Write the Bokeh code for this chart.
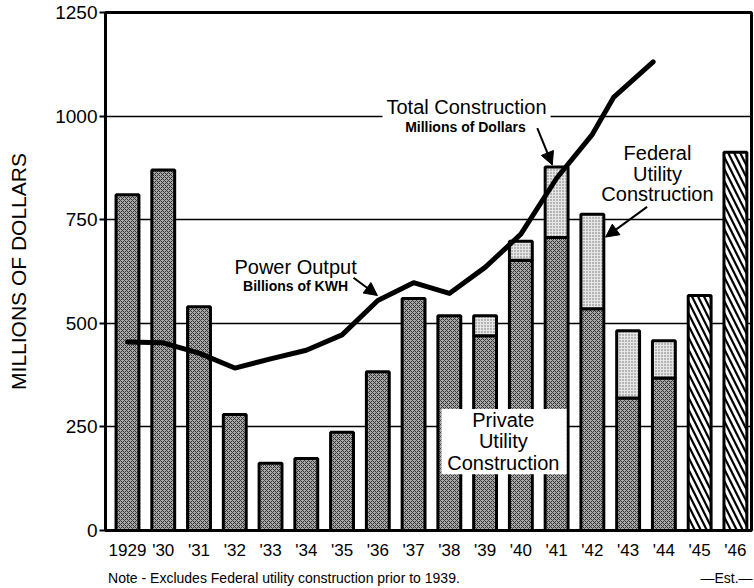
from bokeh.plotting import figure
from bokeh.models import (Range1d, FixedTicker, Label, Arrow, NormalHead,
                          BoxAnnotation, LinearAxis)
from bokeh.embed import file_html
from bokeh.resources import INLINE

FONT = "Liberation Sans"

# ---- data ----
years = list(range(1929, 1947))
year_labels = ["1929", "'30", "'31", "'32", "'33", "'34", "'35", "'36", "'37",
               "'38", "'39", "'40", "'41", "'42", "'43", "'44", "'45", "'46"]
private_years = list(range(1929, 1945))
private = [810, 870, 540, 280, 162, 174, 237, 383, 560, 518, 470, 652, 707, 535, 320, 368]
federal_years = [1939, 1940, 1941, 1942, 1943, 1944]
federal = [48, 46, 170, 228, 162, 90]
est_years = [1945, 1946]
estimated = [567, 913]
power_x = [1929, 1930, 1931, 1932, 1933, 1934, 1935, 1936, 1937, 1938,
           1939, 1940, 1941, 1942, 1942.6, 1943.7]
power = [455, 453, 428, 392, 414, 435, 472, 555, 598, 572,
         635, 715, 850, 956, 1046, 1131]
y_ticks = [0, 250, 500, 750, 1000, 1250]
note_text = "Note - Excludes Federal utility construction prior to 1939."
est_text = "\u2014Est.\u2014"

priv_map = dict(zip(private_years, private))
fed_bottom = [priv_map[y] for y in federal_years]
fed_top = [b + f for b, f in zip(fed_bottom, federal)]

p = figure(width=754, height=588, output_backend="svg", toolbar_location=None,
           x_range=Range1d(1928.385, 1946.45), y_range=Range1d(0, 1250),
           min_border_left=105, min_border_right=3, min_border_top=12,
           min_border_bottom=58)
p.background_fill_color = "white"
p.border_fill_color = "white"
p.outline_line_color = "black"
p.outline_line_width = 3

# grid
p.xgrid.visible = False
p.ygrid.ticker = FixedTicker(ticks=[250, 500, 750, 1000])
p.ygrid.grid_line_color = "black"
p.ygrid.grid_line_width = 1.5

# axes
p.yaxis.ticker = FixedTicker(ticks=y_ticks)
p.yaxis.axis_line_width = 3
p.yaxis.major_tick_out = 6
p.yaxis.major_tick_in = 0
p.yaxis.major_tick_line_width = 2
p.yaxis.minor_tick_line_color = None
p.yaxis.major_label_standoff = 2
p.yaxis.major_label_text_font = FONT
p.yaxis.major_label_text_font_size = "19px"
p.yaxis.major_label_text_color = "black"
p.yaxis.axis_label = "MILLIONS OF DOLLARS"
p.yaxis.axis_label_text_font = FONT
p.yaxis.axis_label_text_font_size = "21px"
p.yaxis.axis_label_text_font_style = "normal"
p.yaxis.axis_label_text_color = "black"
p.yaxis.axis_label_standoff = 22

p.xaxis.ticker = FixedTicker(ticks=years)
p.xaxis.major_label_overrides = {y: l for y, l in zip(years, year_labels)}
p.xaxis.axis_line_width = 3
p.xaxis.major_tick_out = 0
p.xaxis.major_tick_in = 0
p.xaxis.minor_tick_line_color = None
p.xaxis.major_label_standoff = 10
p.xaxis.major_label_text_font = FONT
p.xaxis.major_label_text_font_size = "17px"
p.xaxis.major_label_text_color = "black"

# label-only axis below for the "Est." mark and the note
note_pos, est_pos = 1933.375, 1945.75
ax2 = LinearAxis(ticker=FixedTicker(ticks=[note_pos, est_pos]),
                 major_label_overrides={note_pos: note_text, est_pos: est_text},
                 axis_line_color=None, major_tick_line_color=None,
                 minor_tick_line_color=None, major_label_standoff=1,
                 major_label_text_font=FONT, major_label_text_font_size="14px",
                 major_label_text_color="black")
p.add_layout(ax2, "below")

BW = 0.64
# private utility construction (dark stipple)
p.vbar(x=private_years, top=private, bottom=0, width=BW,
       fill_color="#a8a8a8", line_color="black", line_width=3,
       hatch_pattern="diagonal_cross", hatch_scale=4, hatch_weight=1,
       hatch_color="#333333")
# federal utility construction (light stipple)
p.vbar(x=federal_years, top=fed_top, bottom=fed_bottom, width=BW,
       fill_color="#e6e6e6", line_color="black", line_width=3,
       hatch_pattern="dot", hatch_scale=3, hatch_weight=1.2,
       hatch_color="#6a6a6a")
# estimated (hatched)
p.vbar(x=est_years, top=estimated, bottom=0, width=BW,
       fill_color="white", line_color="black", line_width=3,
       hatch_pattern="left_diagonal_line", hatch_scale=12, hatch_weight=2.2,
       hatch_color="black")

# power output line
p.line(x=power_x, y=power, line_color="black", line_width=5,
       line_join="round", line_cap="round")

# ---- annotations ----
def lab(x, y, text, size, style="normal", align="center", baseline="middle", **kw):
    p.add_layout(Label(x=x, y=y, text=text, text_font=FONT, text_font_size=size,
                       text_font_style=style, text_align=align,
                       text_baseline=baseline, text_color="black", **kw))

lab(1933.70, 637, "Power Output", "20px")
lab(1933.70, 591, "Billions of KWH", "14px", "bold")
lab(1938.48, 1022, "Total Construction", "20px",
    background_fill_color="white", background_fill_alpha=1.0, padding=4)
lab(1938.45, 974, "Millions of Dollars", "14px", "bold")
lab(1943.82, 911, "Federal", "20px")
lab(1943.82, 860, "Utility", "20px")
lab(1943.82, 811, "Construction", "20px")

p.add_layout(BoxAnnotation(left=1937.78, right=1941.28, bottom=136, top=293,
                           fill_color="white", fill_alpha=1.0, line_alpha=0))
lab(1939.51, 266, "Private", "20px")
lab(1939.51, 216, "Utility", "20px")
lab(1939.51, 162, "Construction", "20px")

for xs, ys, xe, ye in [(1935.32, 610, 1935.99, 567),
                       (1940.46, 971, 1940.88, 882),
                       (1943.53, 781, 1942.37, 708)]:
    p.add_layout(Arrow(end=NormalHead(size=13, fill_color="black", line_color="black"),
                       x_start=xs, y_start=ys, x_end=xe, y_end=ye,
                       line_color="black", line_width=2))

open("out.html", "w").write(file_html(p, INLINE))
